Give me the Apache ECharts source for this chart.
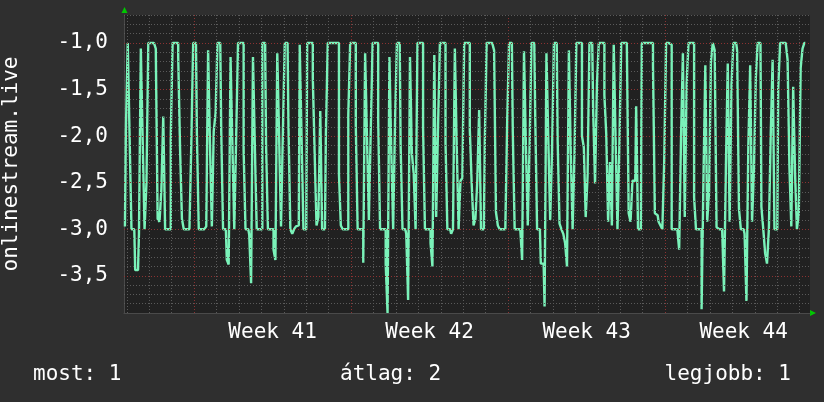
<!DOCTYPE html>
<html><head><meta charset="utf-8">
<script src="https://cdn.jsdelivr.net/npm/echarts@6/dist/echarts.min.js"></script>
<style>html,body{margin:0;padding:0;background:#2f2f2f}#c{width:824px;height:402px}</style>
</head><body><div id="c"></div>
<script>
// ---- data ----
const seriesName = 'onlinestream.live';
const startHour = -74;   // hours relative to the start of Week 41
const stepHours = 2;     // one sample every 2 hours
const values = [
-2.97,-1.95,-1.0,-2.01,-3.0,-3.0,-3.44,-3.44,-3.05,-1.06,
-2.05,-3.0,-2.51,-1.0,-1.0,-1.0,-1.02,-1.06,-2.89,-2.92,
-2.57,-1.79,-3.0,-3.0,-3.0,-2.02,-1.0,-1.0,-1.0,-1.15,
-2.14,-2.89,-3.0,-3.0,-3.0,-3.0,-2.09,-1.0,-1.0,-1.98,
-3.0,-3.0,-3.0,-3.0,-2.97,-1.08,-2.09,-2.97,-1.95,-1.75,
-1.0,-1.0,-1.93,-3.0,-3.0,-3.33,-3.38,-1.15,-2.11,-3.0,
-2.02,-1.0,-1.0,-1.0,-2.16,-3.0,-3.0,-3.06,-3.58,-1.15,
-2.11,-3.0,-3.0,-3.0,-1.0,-1.0,-2.09,-3.0,-3.0,-3.0,
-3.22,-3.33,-1.11,-2.02,-2.97,-1.96,-1.0,-1.0,-1.91,-3.0,
-3.05,-3.0,-2.97,-2.96,-1.02,-2.02,-3.0,-3.0,-1.0,-1.0,
-1.0,-1.37,-2.19,-2.96,-2.87,-1.73,-3.0,-3.0,-1.98,-1.0,
-1.0,-1.0,-1.0,-1.0,-1.0,-2.41,-2.96,-3.0,-3.0,-3.0,
-1.77,-1.0,-1.0,-1.0,-1.89,-3.0,-3.0,-3.0,-3.36,-1.11,
-2.02,-2.9,-1.95,-1.0,-1.0,-1.0,-1.84,-3.0,-3.0,-3.0,
-3.37,-3.9,-1.15,-2.18,-3.0,-1.84,-1.0,-1.0,-2.11,-3.0,
-3.0,-3.05,-3.76,-1.15,-2.18,-2.41,-3.0,-1.0,-1.0,-1.0,
-1.91,-3.0,-3.0,-3.0,-3.15,-3.4,-1.13,-2.87,-1.91,-1.0,
-1.0,-1.0,-2.07,-3.0,-3.0,-3.05,-3.0,-1.06,-2.11,-3.0,
-2.48,-2.45,-1.0,-1.0,-1.0,-1.93,-2.51,-2.96,-2.89,-2.48,
-1.72,-3.0,-3.0,-2.09,-1.0,-1.0,-1.0,-1.0,-1.08,-2.82,
-2.96,-3.0,-3.0,-3.0,-3.0,-1.84,-1.0,-1.0,-1.96,-3.0,
-3.0,-3.0,-3.0,-3.33,-1.09,-2.09,-2.96,-2.09,-1.0,-1.0,
-1.79,-3.0,-3.0,-3.37,-3.37,-3.83,-1.11,-2.04,-2.9,-2.16,
-1.0,-1.0,-2.05,-2.94,-3.0,-3.05,-3.15,-3.4,-1.08,-2.16,
-3.0,-2.2,-1.0,-1.0,-1.0,-2.0,-2.12,-2.87,-2.43,-1.0,
-1.0,-1.73,-2.51,-1.45,-1.0,-1.0,-1.0,-1.56,-1.98,-2.92,
-2.28,-2.96,-1.02,-2.04,-3.0,-2.12,-1.0,-1.0,-1.0,-1.0,
-2.83,-2.92,-2.48,-2.48,-1.68,-3.0,-3.0,-1.0,-1.0,-1.0,
-1.0,-1.0,-1.0,-1.24,-2.83,-2.85,-2.92,-2.96,-3.0,-2.28,
-1.0,-1.0,-1.02,-3.0,-3.0,-3.0,-3.0,-3.22,-2.02,-1.11,
-2.87,-1.43,-1.0,-1.0,-1.0,-2.66,-3.0,-3.0,-3.0,-3.86,
-2.46,-1.24,-2.92,-2.6,-1.2,-1.0,-1.08,-2.98,-3.0,-3.0,
-3.0,-3.67,-2.34,-1.22,-2.92,-1.45,-1.0,-1.0,-1.08,-2.78,
-3.0,-3.0,-3.05,-3.77,-2.12,-1.24,-2.92,-2.37,-1.38,-1.0,
-1.0,-2.76,-3.0,-3.26,-3.37,-3.0,-1.98,-1.18,-3.0,-3.0,
-1.49,-1.0,-1.0,-1.0,-1.0,-1.18,-2.34,-2.97,-1.47,-2.4,
-3.0,-2.83,-1.27,-1.06,-1.0
];
const weekLabels = ['Week 41', 'Week 42', 'Week 43', 'Week 44'];
const weekCenterHours = [84, 252, 420, 588];
const yTickValues = [-1.0, -1.5, -2.0, -2.5, -3.0, -3.5];
const statTexts = ['most: 1', 'átlag: 2', 'legjobb: 1'];

// ---- build ----
const FONT = 'DejaVu Sans Mono';
const FS = 21;
const xMin = -75, xMax = 659, yMin = -3.9, yMax = -0.7;
const lineData = values.map((v, i) => [startHour + stepHours * i, v]);

const gridMinor = '#5a5a5a', gridMajor = '#8c3232';
const ml = [];
for (let h = -72; h <= xMax; h += 24) {
  const major = (h % 168 === 0);
  ml.push({ xAxis: h, lineStyle: { color: major ? gridMajor : gridMinor, type: [1, 2], width: 1 } });
}
for (let k = -38; k <= -7; k++) {
  const v = k / 10;
  const major = (k % 5 === 0);
  ml.push({ yAxis: v, lineStyle: { color: major ? gridMajor : gridMinor, type: [1, 2], width: 1 } });
}

const chart = echarts.init(document.getElementById('c'), null, { renderer: 'canvas' });
chart.setOption({
  backgroundColor: '#2f2f2f',
  animation: false,
  grid: { left: 124, top: 15, width: 686, height: 298, show: true, backgroundColor: '#212121', borderWidth: 0,
          containLabel: false, outerBoundsMode: 'none' },
  xAxis: {
    type: 'value', min: xMin, max: xMax, interval: 3,
    axisLine: { show: true, onZero: false, lineStyle: { color: '#4a4a4a', width: 1 } },
    axisTick: { show: false },
    splitLine: { show: false },
    axisLabel: {
      color: '#ffffff', fontFamily: FONT, fontSize: FS, margin: 9,
      formatter: v => { const k = weekCenterHours.indexOf(Math.round(v)); return k >= 0 ? weekLabels[k] : ''; }
    }
  },
  yAxis: {
    type: 'value', min: yMin, max: yMax, interval: 0.1,
    name: seriesName, nameLocation: 'middle', nameRotate: 90, nameGap: 102,
    nameTextStyle: { color: '#ffffff', fontFamily: FONT, fontSize: FS },
    axisLine: { show: true, onZero: false, lineStyle: { color: '#4a4a4a', width: 1 } },
    axisTick: { show: false },
    splitLine: { show: false },
    axisLabel: {
      color: '#ffffff', fontFamily: FONT, fontSize: FS, margin: 16,
      formatter: v => {
        const r = Math.round(v * 10);
        return yTickValues.some(t => Math.round(t * 10) === r) ? (r / 10).toFixed(1).replace('.', ',') : '';
      }
    }
  },
  series: [
    { type: 'line', z: 1, data: [], silent: true,
      markLine: { silent: true, symbol: ['none', 'none'], label: { show: false }, animation: false, data: ml } },
    { type: 'line', z: 3, name: seriesName, data: lineData, step: 'middle', showSymbol: false, symbol: 'none',
      lineStyle: { color: '#7af2b9', width: 2.4 } }
  ],
  graphic: [
    { type: 'polygon', shape: { points: [[124.5, 7], [121.5, 13], [127.5, 13]] }, style: { fill: '#00c800' } },
    { type: 'polygon', shape: { points: [[816, 313], [810, 310], [810, 316]] }, style: { fill: '#00c800' } },
    { type: 'text', style: { text: statTexts[0], x: 33, y: 375, textVerticalAlign: 'middle', fill: '#ffffff', font: FS + 'px ' + FONT } },
    { type: 'text', style: { text: statTexts[1], x: 340, y: 375, textVerticalAlign: 'middle', fill: '#ffffff', font: FS + 'px ' + FONT } },
    { type: 'text', style: { text: statTexts[2], x: 791, y: 375, textAlign: 'right', textVerticalAlign: 'middle', fill: '#ffffff', font: FS + 'px ' + FONT } }
  ]
});
</script>
</body></html>
